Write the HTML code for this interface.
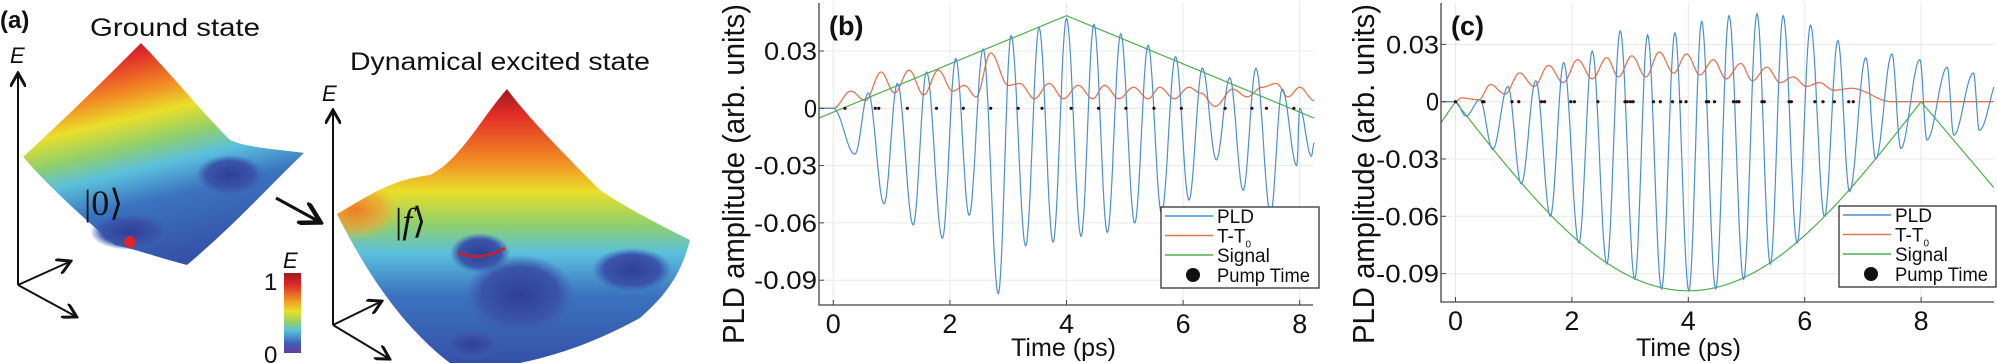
<!DOCTYPE html>
<html><head><meta charset="utf-8"><style>
html,body{margin:0;padding:0;background:#fff}
svg{display:block}
text{font-family:"Liberation Sans",sans-serif;fill:#111}
</style></head><body>
<svg id="s" width="1997" height="363" viewBox="0 0 1997 363" xmlns="http://www.w3.org/2000/svg">
<defs>
<linearGradient id="g1" x1="0.2" y1="0" x2="0.5" y2="1">
<stop offset="0" stop-color="#8b1a1a"/><stop offset="0.1" stop-color="#e02a28"/><stop offset="0.25" stop-color="#f28a25"/><stop offset="0.36" stop-color="#eadf2a"/><stop offset="0.48" stop-color="#8fcf6e"/><stop offset="0.58" stop-color="#5bc0dc"/><stop offset="0.72" stop-color="#3b73c0"/><stop offset="1" stop-color="#3550a8"/>
</linearGradient>
<linearGradient id="g2" x1="0.1" y1="0" x2="0.1" y2="1">
<stop offset="0" stop-color="#8b1a1a"/><stop offset="0.1" stop-color="#e02a28"/><stop offset="0.27" stop-color="#f28a25"/><stop offset="0.38" stop-color="#eadf2a"/><stop offset="0.5" stop-color="#8fcf6e"/><stop offset="0.6" stop-color="#5bc0dc"/><stop offset="0.75" stop-color="#3b73c0"/><stop offset="1" stop-color="#3550a8"/>
</linearGradient>
<linearGradient id="cb" x1="0" y1="0" x2="0" y2="1">
<stop offset="0" stop-color="#9b1b1b"/><stop offset="0.15" stop-color="#e02a28"/><stop offset="0.35" stop-color="#f29a25"/><stop offset="0.48" stop-color="#eadf2a"/><stop offset="0.62" stop-color="#8fcf6e"/><stop offset="0.72" stop-color="#5bc0dc"/><stop offset="0.88" stop-color="#3b60b8"/><stop offset="1" stop-color="#6a3aa0"/>
</linearGradient>
<radialGradient id="blob"><stop offset="0" stop-color="#2f3f98"/><stop offset="0.7" stop-color="#3a55aa"/><stop offset="1" stop-color="#3a60b5" stop-opacity="0"/></radialGradient>
<radialGradient id="org"><stop offset="0" stop-color="#f07a25"/><stop offset="0.6" stop-color="#f0a030" stop-opacity="0.7"/><stop offset="1" stop-color="#f0c030" stop-opacity="0"/></radialGradient>
<clipPath id="ex"><path d="M507,89 C530,120 570,160 600,190 C630,210 660,225 690,240 C680,280 660,300 640,318 C600,340 560,355 520,363 L450,363 C420,340 380,300 337,214 C370,195 390,180 430,175 C460,160 480,120 507,89Z"/></clipPath>
<marker id="ah" markerWidth="8" markerHeight="8" refX="6" refY="4" orient="auto"><path d="M0,0 L7,4 L0,8" fill="none" stroke="#111" stroke-width="1.5"/></marker>
</defs>
<text x="0" y="28" font-size="24" font-weight="bold">(a)</text>
<text x="90" y="36" font-size="25" textLength="170" lengthAdjust="spacingAndGlyphs">Ground state</text>
<text x="350" y="70" font-size="25" textLength="300" lengthAdjust="spacingAndGlyphs">Dynamical excited state</text>
<path d="M141,43 C172,75 200,110 230,140 C247,148 285,150 304,153 C275,180 240,220 187,265 C160,258 138,250 115,245 C86,220 52,190 23,157 C69,115 109,75 141,43Z" fill="url(#g1)"/>
<ellipse cx="230" cy="175" rx="34" ry="20" fill="url(#blob)"/>
<ellipse cx="130" cy="232" rx="40" ry="18" fill="url(#blob)"/>
<circle cx="130" cy="242" r="6" fill="#d9262c"/>
<text x="84" y="215" font-size="36" style="font-family:'Liberation Serif',serif">|0⟩</text>
<line x1="18" y1="285" x2="18" y2="75" stroke="#111" stroke-width="2" marker-end="url(#ah)"/>
<text x="10" y="63" font-size="22" font-style="italic">E</text>
<line x1="18" y1="285" x2="69" y2="262" stroke="#111" stroke-width="2" marker-end="url(#ah)"/>
<line x1="18" y1="285" x2="75" y2="316" stroke="#111" stroke-width="2" marker-end="url(#ah)"/>
<line x1="276" y1="198" x2="318" y2="221" stroke="#111" stroke-width="3" marker-end="url(#ah)"/>
<g clip-path="url(#ex)">
<rect x="330" y="85" width="370" height="280" fill="url(#g2)"/>
<ellipse cx="355" cy="210" rx="45" ry="30" fill="url(#org)"/>
<ellipse cx="480" cy="253" rx="30" ry="20" fill="url(#blob)"/>
<ellipse cx="520" cy="295" rx="55" ry="40" fill="url(#blob)"/>
<ellipse cx="632" cy="270" rx="40" ry="22" fill="url(#blob)"/>
<ellipse cx="472" cy="345" rx="30" ry="15" fill="url(#blob)"/>
</g>
<path d="M458,253 Q480,262 505,248" fill="none" stroke="#c8202a" stroke-width="2.5"/>
<text x="395" y="233" font-size="36" style="font-family:'Liberation Serif',serif">|<tspan font-style="italic">f</tspan>⟩</text>
<line x1="333" y1="325" x2="333" y2="112" stroke="#111" stroke-width="2" marker-end="url(#ah)"/>
<text x="322" y="101" font-size="22" font-style="italic">E</text>
<line x1="333" y1="325" x2="380" y2="302" stroke="#111" stroke-width="2" marker-end="url(#ah)"/>
<line x1="333" y1="325" x2="388" y2="358" stroke="#111" stroke-width="2" marker-end="url(#ah)"/>
<rect x="284" y="273" width="17" height="80" fill="url(#cb)"/>
<text x="283" y="268" font-size="22" font-style="italic">E</text>
<text x="264" y="290" font-size="24">1</text>
<text x="264" y="363" font-size="24">0</text>
<g id="plots"></g>
</svg>
<script>
var NS="http://www.w3.org/2000/svg";
var G=document.getElementById('plots');
function el(t,a,txt){var e=document.createElementNS(NS,t);for(var k in a)e.setAttribute(k,a[k]);if(txt!==undefined)e.textContent=txt;G.appendChild(e);return e;}
function interp(ex,t){
 if(t<=ex[0][0])return ex[0][1];
 for(var i=0;i<ex.length-1;i++){var a=ex[i],b=ex[i+1];if(t<=b[0]){var u=(t-a[0])/(b[0]-a[0]);return a[1]+(b[1]-a[1])*(1-Math.cos(Math.PI*u))/2;}}
 return ex[ex.length-1][1];}
function panel(P){
 var X=function(t){return P.x0+t*P.sx},Y=function(v){return P.y0-v/0.03*P.sy};
 [0,2,4,6,8].forEach(function(t){el('line',{x1:X(t),x2:X(t),y1:P.top,y2:P.bot,stroke:'#e8e8e8','stroke-width':1});});
 [0.03,0,-0.03,-0.06,-0.09].forEach(function(v){el('line',{x1:P.left,x2:P.right,y1:Y(v),y2:Y(v),stroke:'#e8e8e8','stroke-width':1});});
 function line(f,t0,t1,col,w){var d='';for(var t=t0;t<=t1+1e-9;t+=0.01){d+=(d?'L':'M')+X(t).toFixed(1)+','+Y(f(t)).toFixed(1);}el('path',{d:d,fill:'none',stroke:col,'stroke-width':w||1.2});}
 line(function(t){return interp(P.tt,t)},P.t0,P.t1,'#e8744f',1.3);
 line(P.sig,P.t0,P.t1,'#4db04a',1.2);
 line(function(t){return interp(P.pld,t)},P.t0,P.t1,'#4a90d0',1.2);
 P.dots.forEach(function(t){el('circle',{cx:X(t),cy:Y(0),r:1.6,fill:'#2a0a0a'});});
 el('path',{d:'M'+P.left+','+P.top+'L'+P.left+','+P.bot+'L'+P.right+','+P.bot,fill:'none',stroke:'#444','stroke-width':1.3});
 [0,2,4,6,8].forEach(function(t){el('line',{x1:X(t),x2:X(t),y1:P.bot,y2:P.bot-5,stroke:'#444'});el('text',{x:X(t),y:P.bot+28,'font-size':27,'text-anchor':'middle',textLength:15,lengthAdjust:'spacingAndGlyphs'},''+t);});
 [[0.03,'0.03',53],[0,'0',13],[-0.03,'-0.03',63],[-0.06,'-0.06',63],[-0.09,'-0.09',63]].forEach(function(a){el('line',{x1:P.left,x2:P.left+5,y1:Y(a[0]),y2:Y(a[0]),stroke:'#444'});el('text',{x:P.left-2-a[2],y:Y(a[0])+9,'font-size':25,textLength:a[2],lengthAdjust:'spacingAndGlyphs'},a[1]);});
 el('text',{x:P.tx-52,y:356,'font-size':25,fill:'#333',textLength:105,lengthAdjust:'spacingAndGlyphs'},'Time (ps)');
 el('text',{x:0,y:0,'font-size':31,'text-anchor':'middle',textLength:340,lengthAdjust:'spacingAndGlyphs',transform:'translate('+(P.lx+11)+',174) rotate(-90)',fill:'#333'},'PLD amplitude (arb. units)');
 el('text',{x:P.left+10,y:35,'font-size':27,'font-weight':'bold'},P.lab);
 var L=P.leg;el('rect',{x:L[0],y:L[1],width:L[2],height:81,fill:'#fff',stroke:'#333','stroke-width':1.3});
 var items=[['#4a90d0','PLD'],['#e8744f','T-T'],['#4db04a','Signal']];
 items.forEach(function(it,i){var yy=L[1]+9+i*19.5;el('line',{x1:L[0]+4,x2:L[0]+52,y1:yy,y2:yy,stroke:it[0],'stroke-width':1.5});var tx=el('text',{x:L[0]+56,y:yy+7,'font-size':19},it[1]);if(i==1){var ts=document.createElementNS(NS,'tspan');ts.setAttribute('font-size','10');ts.setAttribute('dy','5');ts.textContent='0';tx.appendChild(ts);}});
 el('circle',{cx:L[0]+32,cy:L[1]+68,r:7,fill:'#111'});el('text',{x:L[0]+56,y:L[1]+75,'font-size':19,textLength:93,lengthAdjust:'spacingAndGlyphs'},'Pump Time');
}
panel({x0:833.3,sx:58.3,y0:108.3,sy:57.3,left:819,right:1313,top:3,bot:305,t0:-0.25,t1:8.25,lx:733,tx:1063,lab:'(b)',leg:[1161,207,158],
 sig:function(t){return 0.0505*(1-Math.abs(t-4)/4)-0.002},
 pld:[[0,0],[0.37,-0.024],[0.6,0.008],[0.87,-0.05],[1.1,0.013],[1.37,-0.061],[1.6,0.019],[1.87,-0.068],[2.1,0.026],[2.33,-0.056],[2.57,0.031],[2.83,-0.097],[3.05,0.038],[3.3,-0.072],[3.53,0.042],[3.77,-0.07],[4.0,0.047],[4.25,-0.067],[4.47,0.044],[4.7,-0.065],[4.93,0.039],[5.17,-0.06],[5.4,0.033],[5.63,-0.055],[5.87,0.027],[6.1,-0.048],[6.33,0.021],[6.57,-0.027],[6.8,0.016],[7.03,-0.043],[7.25,0.021],[7.5,-0.055],[7.7,0.01],[7.95,-0.03],[8.0,0.0],[8.2,-0.025],[8.25,-0.018]],
 tt:[[0,0],[0.3,0.009],[0.55,0.004],[0.82,0.019],[1.05,0.008],[1.3,0.02],[1.55,0.007],[1.8,0.02],[2.05,0.009],[2.25,0.012],[2.45,0.006],[2.7,0.029],[3.0,0.012],[3.2,0.013],[3.45,0.005],[3.7,0.013],[3.95,0.005],[4.2,0.012],[4.45,0.005],[4.65,0.012],[4.9,0.005],[5.15,0.011],[5.4,0.005],[5.6,0.011],[5.85,0.005],[6.1,0.011],[6.3,0.008],[6.55,0.001],[6.85,0.01],[7.1,0.006],[7.35,0.011],[7.6,0.013],[7.8,0.006],[8.0,0.011],[8.25,0.004]],
 dots:[0.2,0.72,0.78,1.27,1.77,2.23,2.7,3.17,3.58,4.08,4.55,5.02,5.5,5.97,6.72,7.18,7.43,7.9]});
var cs=[370,430,433,495,510,560,567,625,633,685,745,750,757,763,808,823,850,868,880,925,930,943,985,992,997,1048,1053,1108,1113,1165,1183,1208,1240,1250].map(function(x){return (x-370)/128.75});
panel({x0:1455.5,sx:58.2,y0:101.7,sy:57.3,left:1441,right:1994,top:3,bot:302,t0:-0.25,t1:9.25,lx:1363,tx:1688,lab:'(c)',leg:[1839,206,157],
 sig:function(t){if(t<0)return 0.044*t;if(t<=8)return -0.099*Math.sin(Math.PI*t/8);return -0.036*(t-8);},
 pld:[[0,0],[0.18,-0.0075],[0.42,0.001],[0.64,-0.025],[0.9,0.008],[1.13,-0.043],[1.38,0.011],[1.63,-0.06],[1.86,0.0205],[2.12,-0.074],[2.35,0.0265],[2.6,-0.085],[2.83,0.037],[3.08,-0.093],[3.3,0.035],[3.54,-0.098],[3.77,0.036],[4.01,-0.099],[4.23,0.042],[4.47,-0.098],[4.7,0.045],[4.95,-0.093],[5.18,0.046],[5.41,-0.085],[5.63,0.045],[5.87,-0.074],[6.1,0.04],[6.34,-0.06],[6.57,0.032],[6.77,-0.047],[7.05,0.023],[7.22,-0.03],[7.5,0.025],[7.65,-0.0245],[7.98,0.022],[8.1,-0.02],[8.45,0.018],[8.56,-0.0175],[8.9,0.015],[9.0,-0.015],[9.35,0.013]],
 tt:[[0,0],[0.1,0.002],[0.4,0.001],[0.6,0.009],[0.85,0.004],[1.1,0.015],[1.35,0.008],[1.6,0.019],[1.85,0.01],[2.1,0.022],[2.35,0.012],[2.6,0.023],[2.8,0.013],[3.03,0.024],[3.27,0.013],[3.5,0.026],[3.75,0.015],[3.97,0.025],[4.2,0.014],[4.43,0.022],[4.65,0.012],[4.9,0.02],[5.1,0.011],[5.35,0.018],[5.58,0.01],[5.8,0.013],[6.03,0.008],[6.25,0.01],[6.5,0.006],[6.8,0.007],[7.5,0],[9.3,0]],
 dots:cs});
</script>
</body></html>
